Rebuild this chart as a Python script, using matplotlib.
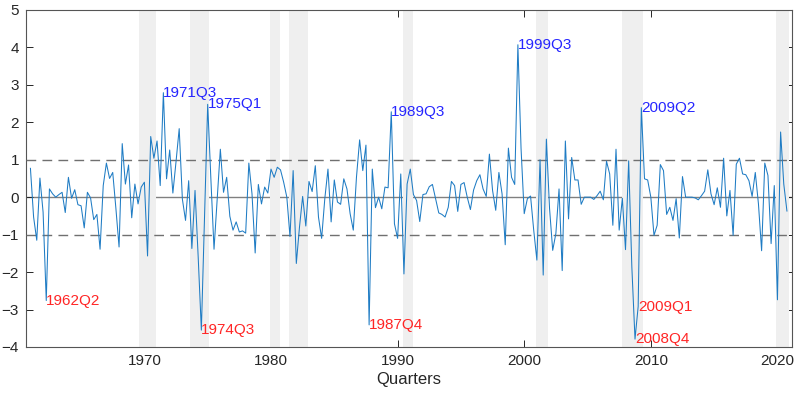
import numpy as np
import matplotlib.pyplot as plt

plt.rcParams['font.family'] = ['Liberation Sans', 'DejaVu Sans']

# quarterly series, 1961Q1 .. 2020Q4
start_year = 1961
values = [
    0.77, -0.53, -1.15, 0.51, -0.4, -2.76, 0.22, 0.09, 0.0, 0.07,
    0.13, -0.41, 0.53, -0.03, 0.2, -0.2, -0.23, -0.82, 0.13, -0.02,
    -0.6, -0.46, -1.39, 0.31, 0.91, 0.5, 0.66, -0.3, -1.33, 1.43,
    0.35, 0.86, -0.55, 0.35, -0.18, 0.27, 0.4, -1.57, 1.62, 1.04,
    1.5, 0.31, 2.79, 0.49, 1.26, 0.11, 0.95, 1.83, -0.05, -0.62,
    0.44, -1.37, 0.18, -1.6, -3.55, -0.5, 2.48, 0.5, -1.39, -0.05,
    1.28, 0.13, 0.53, -0.51, -0.88, -0.66, -0.93, -0.9, -0.96, 0.91,
    0.09, -1.49, 0.34, -0.18, 0.27, 0.11, 0.75, 0.53, 0.8, 0.73,
    0.4, 0.0, -1.05, 0.71, -1.77, -0.8, 0.02, -0.77, 0.42, 0.15,
    0.84, -0.53, -1.1, -0.04, 0.75, -0.66, 0.46, -0.13, -0.19, 0.49,
    0.22, -0.44, -0.88, 0.53, 1.53, 0.71, 1.39, -3.41, 0.75, -0.28,
    0.0, -0.31, 0.27, 0.25, 2.28, -0.71, -1.1, 0.62, -2.05, 0.35,
    0.75, 0.07, -0.09, -0.65, 0.07, 0.09, 0.28, 0.34, -0.04, -0.42,
    -0.46, -0.53, -0.27, 0.42, 0.31, -0.38, 0.34, 0.39, 0.0, -0.33,
    0.19, 0.44, 0.6, 0.22, 0.02, 1.15, 0.18, -0.35, 0.66, 0.09,
    -1.27, 1.31, 0.53, 0.34, 4.07, 1.3, -0.44, -0.04, 0.03, -0.88,
    -1.68, 1.0, -2.08, 1.55, -0.3, -1.42, -0.97, 0.22, -1.96, 1.5,
    -0.58, 1.06, 0.46, 0.46, -0.19, 0.0, 0.0, 0.0, -0.06, 0.04,
    0.16, -0.07, 0.96, 0.62, -0.75, 1.28, -0.88, -0.03, -1.4, 0.97,
    -1.86, -3.79, -2.92, 2.39, 0.49, 0.46, 0.0, -1.02, -0.75, 0.87,
    0.71, -0.46, -0.27, -0.62, -0.04, -1.09, 0.55, 0.0, 0.0, 0.0,
    -0.02, -0.07, 0.04, 0.16, 0.73, 0.09, -0.2, 0.25, -0.27, 1.04,
    -0.5, 0.18, -1.02, 0.88, 1.04, 0.62, 0.6, 0.44, 0.02, 0.66,
    -0.18, -1.43, 0.91, 0.58, -1.24, 0.31, -2.74, 1.74, 0.35, -0.37,
]

# recession periods (fractional years)
rec_start = [1969.6, 1973.6, 1979.9, 1981.4, 1990.4, 2000.9, 2007.7, 2019.9]
rec_end = [1970.9, 1975.1, 1980.7, 1982.9, 1991.2, 2001.9, 2009.4, 2020.9]

pos_labels = ['1971Q3', '1975Q1', '1989Q3', '1999Q3', '2009Q2']
neg_labels = ['1962Q2', '1974Q3', '1987Q4', '2008Q4', '2009Q1']

values = np.array(values)
t = start_year + np.arange(len(values)) / 4.0


def quarter_index(lab):
    y, q = lab.split('Q')
    return (int(y) - start_year) * 4 + int(q) - 1


fig = plt.figure(figsize=(8, 3.97), dpi=100)
ax = fig.add_axes([0.0325, 0.126, 0.9575, 0.849])

ax.axhline(0, color='#808080', lw=1.0, zorder=1)
for a, b in zip(rec_start, rec_end):
    ax.axvspan(a, b, color='#efefef', lw=0, zorder=2)
for yv in (1, -1):
    ax.axhline(yv, color='#707070', lw=1.0, ls=(0, (7, 4.5)), zorder=3)

ax.plot(t, values, color='#1f7cc4', lw=0.75, zorder=4)

for lab in pos_labels:
    i = quarter_index(lab)
    ax.text(t[i], values[i], lab, color='#2626ff', fontsize=11,
            ha='left', va='center', zorder=5)
for lab in neg_labels:
    i = quarter_index(lab)
    ax.text(t[i], values[i], lab, color='#ff2626', fontsize=11,
            ha='left', va='center', zorder=5)

ax.set_xlim(1960.65, 2021.15)
ax.set_ylim(-4, 5)
ax.set_xticks(np.arange(1970, 2021, 10))
ax.set_yticks(np.arange(-4, 6, 1))
ax.tick_params(direction='in', length=5, width=0.7, colors='#262626',
               labelsize=11, top=True, right=True, pad=5)
for s in ax.spines.values():
    s.set_color('#555555')
    s.set_linewidth(0.8)
ax.set_xlabel('Quarters', fontsize=12, color='#262626', labelpad=3)

fig.savefig('out.png', dpi=100)
